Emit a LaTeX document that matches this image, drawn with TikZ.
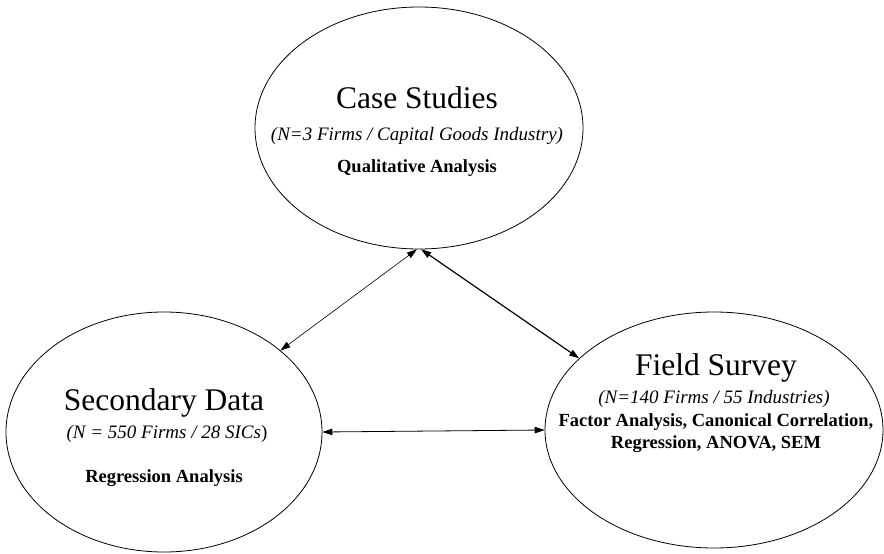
\documentclass[tikz,border=0pt]{standalone}
\usepackage{fontspec}
\setmainfont{Liberation Serif}
\usetikzlibrary{shapes.geometric,arrows.meta}
\tikzset{
  study/.style={draw, ellipse, line width=0.8pt, inner sep=0pt},
  title/.style={anchor=base, inner sep=0pt, font=\fontsize{31.5}{31.5}\selectfont},
  sample/.style={anchor=base, inner sep=0pt, font=\fontsize{19}{19}\selectfont\itshape},
  method/.style={anchor=base, inner sep=0pt, align=center, font=\fontsize{18.5}{22}\selectfont\bfseries},
  link/.style={{Triangle[length=10pt,width=6.5pt]}-{Triangle[length=10pt,width=6.5pt]}, line width=0.6pt},
  strong link/.style={link, line width=1.2pt}
}
\begin{document}
\begin{tikzpicture}[x=1pt,y=-1pt]
\useasboundingbox (0,0) rectangle (884,554);

% the three research methods
\node[study, minimum width=328pt, minimum height=242pt] (cs) at (419,128) {};
\node[study, minimum width=316pt, minimum height=240pt] (sd) at (164,432) {};
\node[study, minimum width=338pt, minimum height=236pt] (fs) at (714,430) {};

% case studies
\node[title]  (cst) at (417,108) {Case Studies};
\node[sample] (css) at (417,140) {(N=3 Firms / Capital Goods Industry)};
\node[method] (csm) at (417,172) {Qualitative Analysis};

% secondary data
\node[title]  (sdt) at (164,410) {Secondary Data};
\node[sample] (sds) at (167,438) {(N = 550 Firms / 28 SICs\upshape)};
\node[method] (sdm) at (164,482) {Regression Analysis};

% field survey
\node[title]  (fst) at (716,375) {Field Survey};
\node[sample] (fss) at (714,403) {(N=140 Firms / 55 Industries)};
\node[method] (fsm) at (716,448) {Factor Analysis, Canonical Correlation,\\Regression, ANOVA, SEM};

% triangulation links
\draw[link] (cs.-91) -- (sd.35);
\draw[strong link] (cs.-89) -- (fs.152);
\draw[link, line width=0.8pt] (sd.east) -- (fs.west);
\end{tikzpicture}
\end{document}
